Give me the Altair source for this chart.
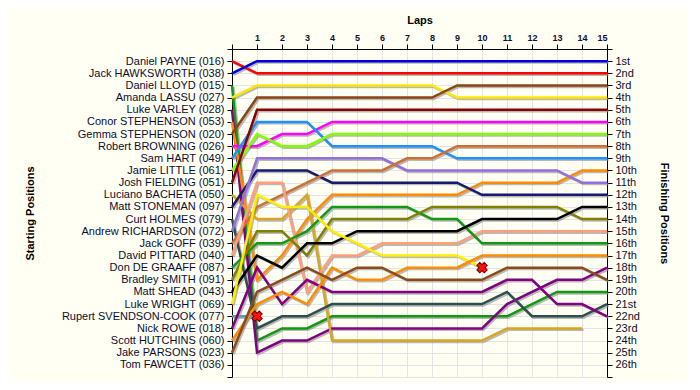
import json
import altair as alt
import pandas as pd

laps = list(range(16))

starters = [
    "Daniel PAYNE (016)", "Jack HAWKSWORTH (038)", "Daniel LLOYD (015)",
    "Amanda LASSU (027)", "Luke VARLEY (028)", "Conor STEPHENSON (053)",
    "Gemma STEPHENSON (020)", "Robert BROWNING (026)", "Sam HART (049)",
    "Jamie LITTLE (061)", "Josh FIELDING (051)", "Luciano BACHETA (050)",
    "Matt STONEMAN (097)", "Curt HOLMES (079)", "Andrew RICHARDSON (072)",
    "Jack GOFF (039)", "David PITTARD (040)", "Don DE GRAAFF (087)",
    "Bradley SMITH (091)", "Matt SHEAD (043)", "Luke WRIGHT (069)",
    "Rupert SVENDSON-COOK (077)", "Nick ROWE (018)", "Scott HUTCHINS (060)",
    "Jake PARSONS (023)", "Tom FAWCETT (036)",
]

finish_labels = [
    "1st", "2nd", "3rd", "4th", "5th", "6th", "7th", "8th", "9th", "10th",
    "11th", "12th", "13th", "14th", "15th", "16th", "17th", "18th", "19th",
    "20th", "21st", "22nd", "23rd", "24th", "25th", "26th",
]

# position at lap 0, 1, 2, ... (shorter lists = retired)
pos_payne = [1, 2, 2, 2, 2, 2, 2, 2, 2, 2, 2, 2, 2, 2, 2, 2]
pos_hawksworth = [2, 1, 1, 1, 1, 1, 1, 1, 1, 1, 1, 1, 1, 1, 1, 1]
pos_lloyd = [3, 24, 23, 23, 22, 22, 22, 22, 22, 22, 22, 22, 21, 20, 20, 20]
pos_lassu = [4, 3, 3, 3, 3, 3, 3, 3, 3, 4, 4, 4, 4, 4, 4, 4]
pos_varley = [5, 25, 24, 24, 23, 23, 23, 23, 23, 23, 23, 21, 20, 19, 19, 18]
pos_c_stephenson = [6, 19, 17, 14, 12, 12, 12, 12, 12, 12, 11, 11, 11, 11, 10, 10]
pos_g_stephenson = [7, 4, 4, 4, 4, 4, 4, 4, 4, 3, 3, 3, 3, 3, 3, 3]
pos_browning = [8, 8, 7, 7, 6, 6, 6, 6, 6, 6, 6, 6, 6, 6, 6, 6]
pos_hart = [9, 6, 6, 6, 8, 8, 8, 8, 8, 9, 9, 9, 9, 9, 9, 9]
pos_little = [10, 7, 8, 8, 7, 7, 7, 7, 7, 7, 7, 7, 7, 7, 7, 7]
pos_fielding = [11, 5, 5, 5, 5, 5, 5, 5, 5, 5, 5, 5, 5, 5, 5, 5]
pos_bacheta = [12, 14, 14, 12, 24, 24, 24, 24, 24, 24, 24, 23, 23, 23, 23]
pos_stoneman = [13, 10, 10, 10, 11, 11, 11, 11, 11, 11, 12, 12, 12, 12, 12, 12]
pos_holmes = [14, 23, 22, 22, 21, 21, 21, 21, 21, 21, 21, 20, 22, 22, 22, 21]
pos_richardson = [15, 9, 9, 9, 9, 9, 9, 10, 10, 10, 10, 10, 10, 10, 11, 11]
pos_goff = [16, 13, 12, 11, 10, 10, 10, 9, 9, 8, 8, 8, 8, 8, 8, 8]
pos_pittard = [17, 11, 11, 20, 17, 17, 16, 16, 16, 16, 15, 15, 15, 15, 15, 15]
pos_degraaff = [18, 16, 16, 15, 13, 13, 13, 13, 14, 14, 16, 16, 16, 16, 16, 16]
pos_smith = [19, 15, 15, 17, 14, 14, 14, 14, 13, 13, 13, 13, 13, 13, 14, 14]
pos_shead = [20, 17, 18, 16, 16, 15, 15, 15, 15, 15, 14, 14, 14, 14, 13, 13]
pos_wright = [21, 12, 13, 13, 15, 16, 17, 17, 17, 17, 18]
pos_svendson = [22, 22]
pos_rowe = [23, 18, 21, 19, 20, 20, 20, 20, 20, 20, 20, 19, 19, 21, 21, 22]
pos_hutchins = [24, 21, 20, 21, 18, 19, 19, 18, 18, 18, 17, 17, 17, 17, 17, 17]
pos_parsons = [25, 20, 19, 18, 19, 18, 18, 19, 19, 19, 19, 18, 18, 18, 18, 19]

series_positions = [
    pos_payne, pos_hawksworth, pos_lloyd, pos_lassu, pos_varley,
    pos_c_stephenson, pos_g_stephenson, pos_browning, pos_hart, pos_little,
    pos_fielding, pos_bacheta, pos_stoneman, pos_holmes, pos_richardson,
    pos_goff, pos_pittard, pos_degraaff, pos_smith, pos_shead, pos_wright,
    pos_svendson, pos_rowe, pos_hutchins, pos_parsons,
]

series_colors = [
    "#ff0000", "#0000dd", "#119911", "#ffe600", "#800080",
    "#ff8c00", "#8b4513", "#ff00ff", "#1e90ff", "#7fff00",
    "#8b0000", "#daa520", "#191970", "#2f4f4f", "#9370db",
    "#cd7034", "#ffa07a", "#119911", "#808000", "#000000", "#ffee00",
    "#5f9ea0", "#800080", "#ff8c00", "#8b4a1c",
]

retire_laps = [1, 10]
retire_positions = [22, 18]

rows = []
for i, plist in enumerate(series_positions):
    for lap, p in zip(laps, plist):
        rows.append({"driver": starters[i], "lap": lap, "pos": p})
df = pd.DataFrame(rows)
retired = pd.DataFrame({"lap": retire_laps, "pos": retire_positions})

names_expr = json.dumps(starters)
fin_expr = json.dumps(finish_labels)
label_color = "#0c0c30"
font = "Liberation Sans"

xscale = alt.Scale(domain=[0, 15], nice=False, zero=False)
yscale = alt.Scale(domain=[0, 27], reverse=True, nice=False, zero=False)

x_axis = alt.Axis(
    orient="top", values=laps, title="Laps",
    labelExpr="datum.value == 0 ? '' : datum.value",
    grid=True, gridColor="#e4e4e4", domainColor="black", tickColor="black",
    labelFontWeight="bold", labelFontSize=9, labelColor=label_color,
    titleFontSize=11, titleFontWeight="bold", titleColor="black",
    titlePadding=8, tickSize=5, labelPadding=2,
)

left_axis = alt.Axis(
    orient="left", values=list(range(0, 28)), title="Starting Positions",
    labelExpr="datum.value >= 1 && datum.value <= 26 ? " + names_expr + "[datum.value - 1] : ''",
    grid=True, gridColor="#e4e4e4", domainColor="black", tickColor="black",
    labelFontSize=11, labelColor=label_color, labelFont=font,
    titleFontSize=11, titleFontWeight="bold", titleColor="black",
    titleX=-197, tickSize=5, labelPadding=3,
)

right_axis = alt.Axis(
    orient="right", values=list(range(0, 28)), title="Finishing Positions",
    labelExpr="datum.value >= 1 && datum.value <= 26 ? " + fin_expr + "[datum.value - 1] : ''",
    grid=False, domainColor="black", tickColor="black",
    labelFontSize=11, labelColor=label_color, labelFont=font,
    titleFontSize=11, titleFontWeight="bold", titleColor="black",
    titleX=51, tickSize=5, labelPadding=3,
)

shadow = alt.Chart(df).transform_calculate(
    sx="datum.lap + 0.06", sy="datum.pos + 0.12"
).mark_line(strokeWidth=2.5, color="#8a8a8a", opacity=0.6).encode(
    x=alt.X("sx:Q", scale=xscale, axis=x_axis),
    y=alt.Y("sy:Q", scale=yscale, axis=right_axis),
    detail="driver:N",
)

lines = alt.Chart(df).mark_line(strokeWidth=2.5).encode(
    x=alt.X("lap:Q", scale=xscale, axis=x_axis),
    y=alt.Y("pos:Q", scale=yscale, axis=left_axis),
    color=alt.Color("driver:N", scale=alt.Scale(domain=starters[:25], range=series_colors), legend=None),
    detail="driver:N",
)

marks = alt.Chart(retired).mark_point(
    shape="cross", angle=45, filled=True, color="#ff1010",
    stroke="#700000", strokeWidth=1, size=110, opacity=1,
).encode(
    x=alt.X("lap:Q", scale=xscale, axis=x_axis),
    y=alt.Y("pos:Q", scale=yscale, axis=None),
)

chart = alt.layer(shadow, lines, marks).resolve_axis(y="independent").properties(
    width=375, height=328,
    autosize=alt.AutoSizeParams(type="none"),
    padding={"left": 224, "top": 41, "right": 80, "bottom": 5},
    background="#fffff4",
).configure_view(stroke=None, fill="#fffff4").configure(font=font)

chart.save("out.html", embed_options={"renderer": "svg", "actions": False})
